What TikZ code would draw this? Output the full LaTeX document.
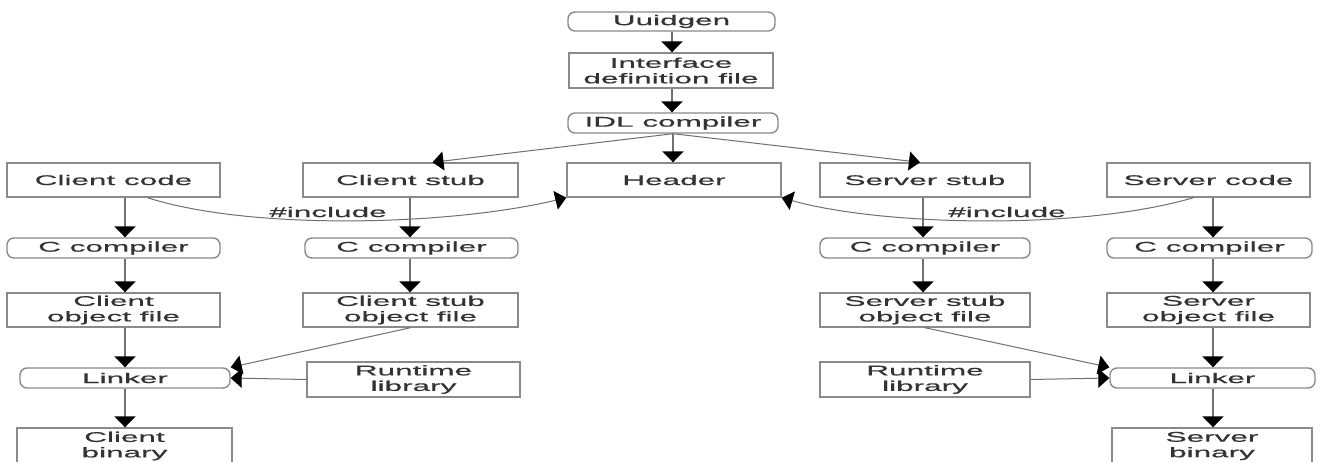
\documentclass[tikz,border=0pt]{standalone}
\usepackage{fontspec}
\usetikzlibrary{arrows.meta}
\newfontfamily\diafont[FakeStretch=2.25,FakeBold=0.6]{Liberation Sans}
\definecolor{boxgray}{HTML}{8A8A8A}
\definecolor{linegray}{HTML}{707070}
\definecolor{textgray}{HTML}{333333}
\begin{document}
\begin{tikzpicture}[x=1pt,y=-1pt,
  every node/.style={font=\diafont\fontsize{14}{15.5}\selectfont, text=textgray, align=center, inner sep=0pt},
  box/.style={draw=boxgray, line width=1.4pt, fill=white},
  rnd/.style={box, rounded corners=7pt},
  arr/.style={draw=linegray, line width=2pt, -{Triangle[width=21pt,length=11pt,color=black]}},
  arrthin/.style={draw=linegray, line width=1pt, -{Triangle[width=19pt,length=11pt,color=black]}},
  lbl/.style={font=\diafont\fontsize{14}{15.5}\selectfont}
]
\useasboundingbox (0,0) rectangle (1340,461);
\fill[white] (0,0) rectangle (1340,461);

% central chain
\node[rnd, minimum width=207pt, minimum height=19pt] (uuid) at (671.5,21.5) {Uuidgen};
\node[box, minimum width=204pt, minimum height=35pt] (idf) at (671,70.5) {Interface\\definition file};
\node[rnd, minimum width=210pt, minimum height=20pt] (idl) at (673,123) {IDL compiler};

% sources
\node[box, minimum width=213pt, minimum height=34pt] (ccode) at (113.5,180) {Client code};
\node[box, minimum width=215pt, minimum height=34pt] (cstub) at (410.5,180) {Client stub};
\node[box, minimum width=214pt, minimum height=34pt] (hdr)   at (674,180)   {Header};
\node[box, minimum width=210pt, minimum height=34pt] (sstub) at (925,180)   {Server stub};
\node[box, minimum width=203pt, minimum height=34pt] (scode) at (1208.5,180) {Server code};

% compilers
\node[rnd, minimum width=213pt, minimum height=20pt] (cc1) at (113.5,248) {C compiler};
\node[rnd, minimum width=213pt, minimum height=20pt] (cc2) at (411.5,248) {C compiler};
\node[rnd, minimum width=210pt, minimum height=20pt] (cc3) at (925,248)   {C compiler};
\node[rnd, minimum width=205pt, minimum height=20pt] (cc4) at (1209.5,248) {C compiler};

% object files
\node[box, minimum width=213pt, minimum height=34pt] (obj1) at (113.5,310) {Client\\object file};
\node[box, minimum width=215pt, minimum height=34pt] (obj2) at (410.5,310) {Client stub\\object file};
\node[box, minimum width=210pt, minimum height=34pt] (obj3) at (925,310)   {Server stub\\object file};
\node[box, minimum width=203pt, minimum height=34pt] (obj4) at (1208.5,310) {Server\\object file};

% linking
\node[rnd, minimum width=210pt, minimum height=20pt] (lnk1) at (125,378)    {Linker};
\node[box, minimum width=213pt, minimum height=35pt] (rt1)  at (413.5,379.5) {Runtime\\library};
\node[box, minimum width=210pt, minimum height=35pt] (rt2)  at (925,379.5)   {Runtime\\library};
\node[rnd, minimum width=205pt, minimum height=20pt] (lnk2) at (1212.5,378) {Linker};

% binaries
\node[box, minimum width=215pt, minimum height=36pt] (bin1) at (124.5,446) {Client\\binary};
\node[box, minimum width=200pt, minimum height=36pt] (bin2) at (1212,446)  {Server\\binary};

% column positions of the vertical flows
\coordinate (colA) at (125,0);
\coordinate (colB) at (410,0);
\coordinate (colC) at (923,0);
\coordinate (colD) at (1213,0);
\coordinate (colM) at (672,0);

% central chain arrows
\draw[arr] (uuid.south -| colM) -- (idf.north -| colM);
\draw[arr] (idf.south -| colM) -- (idl.north -| colM);
\draw[arr] (idl.south) -- (hdr.north -| idl.south);
\draw[arrthin] (idl.south) -- ([xshift=22pt]cstub.north);
\draw[arrthin] (idl.south) -- ([xshift=-5pt]sstub.north);

% client column
\draw[arr] (ccode.south -| colA) -- (cc1.north -| colA);
\draw[arr] (cc1.south -| colA) -- (obj1.north -| colA);
\draw[arr] (obj1.south -| colA) -- (lnk1.north -| colA);
\draw[arr] (lnk1.south -| colA) -- (bin1.north -| colA);

% client stub column
\draw[arr] (cstub.south -| colB) -- (cc2.north -| colB);
\draw[arr] (cc2.south -| colB) -- (obj2.north -| colB);
\draw[arrthin] (obj2.south) -- (lnk1.north east);
\draw[arrthin] (rt1.west) -- (lnk1.east);

% server stub column
\draw[arr] (sstub.south -| colC) -- (cc3.north -| colC);
\draw[arr] (cc3.south -| colC) -- (obj3.north -| colC);
\draw[arrthin] (obj3.south) -- (lnk2.north west);
\draw[arrthin] (rt2.east) -- (lnk2.west);

% server column
\draw[arr] (scode.south -| colD) -- (cc4.north -| colD);
\draw[arr] (cc4.south -| colD) -- (obj4.north -| colD);
\draw[arr] (obj4.south -| colD) -- (lnk2.north -| colD);
\draw[arr] (lnk2.south -| colD) -- (bin2.north -| colD);

% #include dependencies on the header
\draw[arrthin] ([xshift=34pt]ccode.south) .. controls +(103,33) and +(-117,28) .. (hdr.south west);
\draw[arrthin] ([xshift=-15pt]scode.south) .. controls +(-113,33) and +(99,28) .. (hdr.south east);
\node[lbl] (inc1) at (328,212) {\#include};
\node[lbl] (inc2) at (1007,212) {\#include};
\end{tikzpicture}
\end{document}
